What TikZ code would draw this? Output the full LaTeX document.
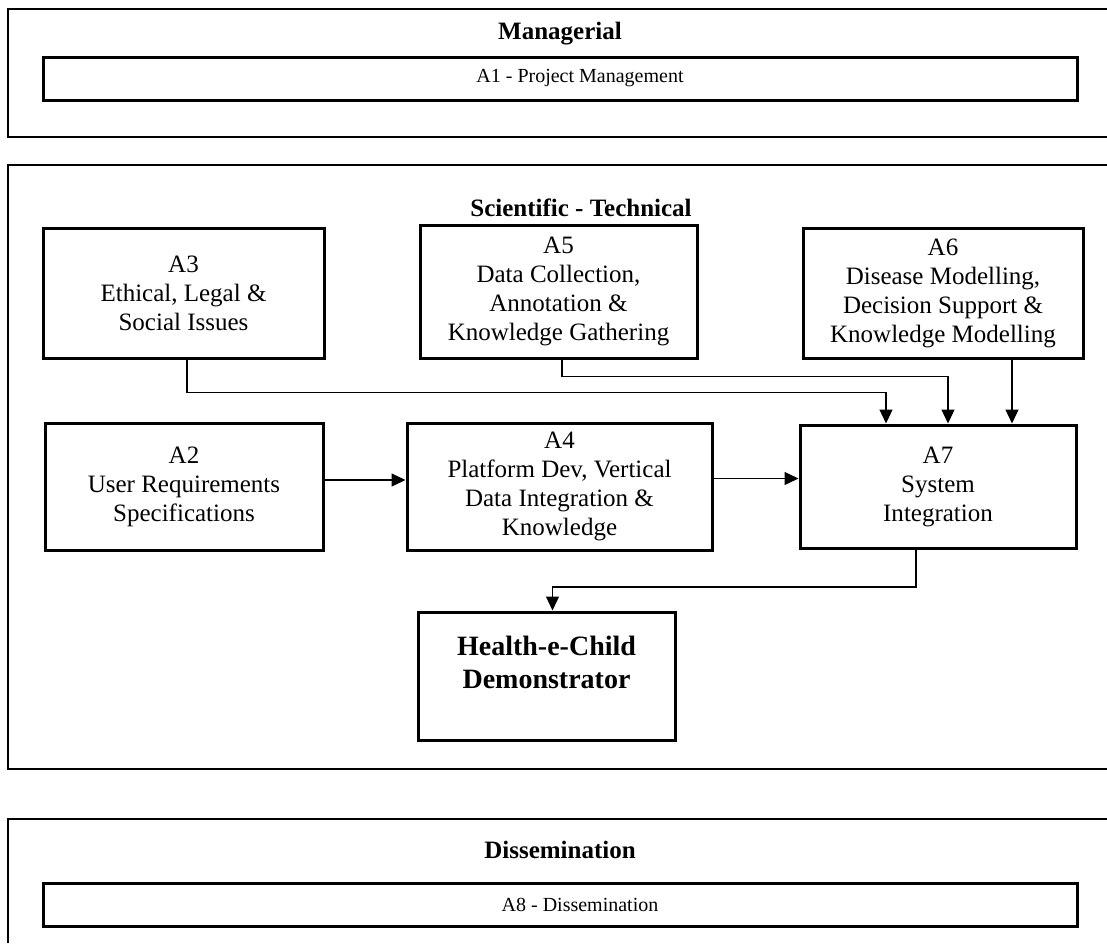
\documentclass[tikz,border=0pt]{standalone}
\usepackage{fontspec}
\setmainfont{Liberation Serif}
\usetikzlibrary{arrows.meta}

\begin{document}
\begin{tikzpicture}[x=1pt, y=-1pt, line width=1.2pt,
  panel/.style={line width=1.3pt},
  blk/.style={draw, line width=3pt, inner sep=0pt, align=center, font=\fontsize{25}{29}\selectfont},
  bar/.style={draw, line width=3pt, inner sep=0pt, minimum width=1034pt, minimum height=43pt},
  bartxt/.style={font=\fontsize{20}{24}\selectfont, xshift=20pt},
  head/.style={font=\bfseries\fontsize{25}{29}\selectfont},
  flow/.style={line width=1.2pt, -{Triangle[length=14pt, width=13pt]}}]
  \useasboundingbox (0,0) rectangle (1107,943);

  % the three panels run off the right edge
  \draw[panel] (1107,9) -- (8,9) -- (8,137) -- (1107,137);
  \draw[panel] (1107,165) -- (8,165) -- (8,769) -- (1107,769);
  \draw[panel] (1107,819) -- (8,819) -- (8,943);

  \node[head] (mgr) at (560,34) {Managerial};
  \node[head] (sci) at (581,208) {Scientific - Technical};
  \node[head] (dis) at (560,850) {Dissemination};

  \node[bar, label={[name=a1txt, bartxt]center:A1 - Project Management}] (a1) at (560,78.5) {};
  \node[bar, label={[name=a8txt, bartxt]center:A8 - Dissemination}] (a8) at (560,904.5) {};

  % upper row
  \node[blk, minimum width=281pt, minimum height=130pt] (a3) at (183.5,293) {A3\\Ethical, Legal \&\\Social Issues};
  \node[blk, minimum width=277pt, minimum height=133pt] (a5) at (558.5,291.5) {A5\\Data Collection,\\Annotation \&\\Knowledge Gathering};
  \node[blk, minimum width=280pt, minimum height=130pt] (a6) at (943,293) {A6\\Disease Modelling,\\Decision Support \&\\Knowledge Modelling};

  % lower row
  \node[blk, minimum width=278pt, minimum height=127pt] (a2) at (184,486.5) {A2\\User Requirements\\Specifications};
  \node[blk, minimum width=305pt, minimum height=127pt] (a4) at (559.5,486.5) {A4\\Platform Dev, Vertical\\Data Integration \&\\Knowledge};
  \node[blk, minimum width=276pt, minimum height=123pt] (a7) at (938,486.5) {A7\\System\\Integration};

  \node[blk, minimum width=257pt, minimum height=128pt,
    label={[name=hectxt, align=center, font=\bfseries\fontsize{28}{33}\selectfont, yshift=14pt]center:{Health-e-Child\\Demonstrator}}] (hec) at (546.5,676) {};

  \draw[flow] ([xshift=3.5pt]a3.south) -- ++(0,33) -| ([xshift=-52pt]a7.north);
  \draw[flow] ([xshift=3.5pt]a5.south) -- ++(0,17) -| ([xshift=10pt]a7.north);
  \draw[flow] ([xshift=69pt]a6.south) -- ([xshift=74pt]a7.north);
  \draw[flow] ([yshift=6.5pt]a2.east) -- ([yshift=6.5pt]a4.west);
  \draw[flow] ([yshift=8pt]a4.east) -- ([yshift=8pt]a7.west);
  \draw[flow] ([xshift=-22pt]a7.south) -- ++(0,37.5) -| ([xshift=6pt]hec.north);
\end{tikzpicture}
\end{document}
